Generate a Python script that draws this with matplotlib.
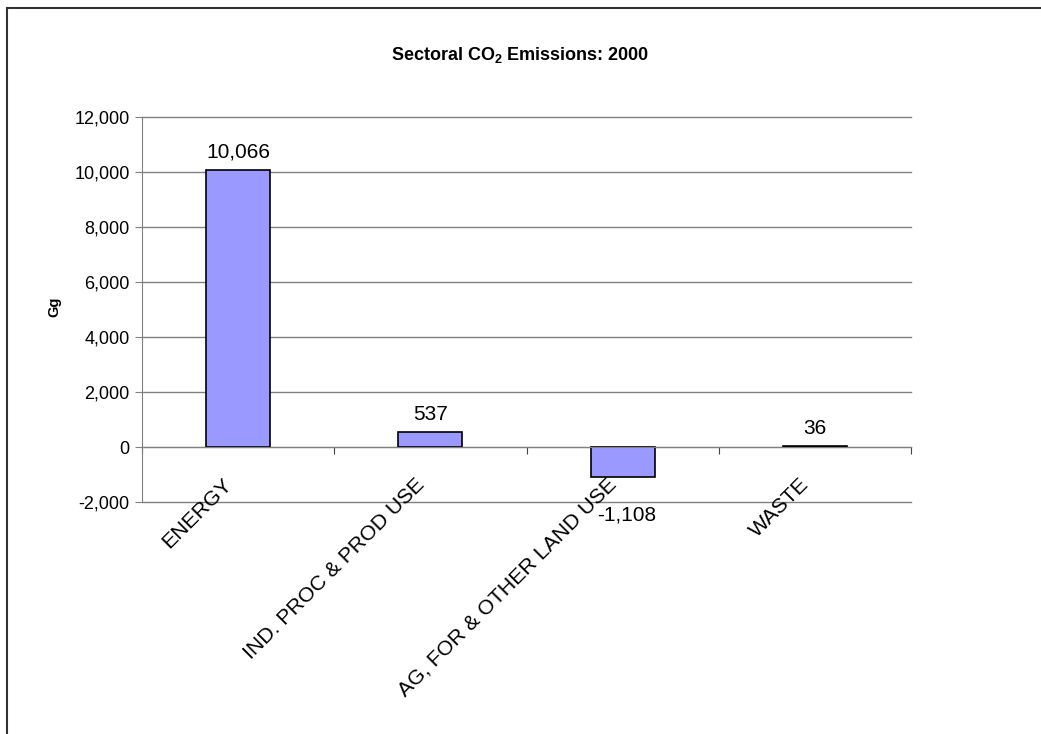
import matplotlib.pyplot as plt
from matplotlib.lines import Line2D

plt.rcParams['font.family'] = ['Liberation Sans', 'DejaVu Sans']
plt.rcParams['mathtext.fontset'] = 'custom'
plt.rcParams['mathtext.rm'] = 'Liberation Sans'
plt.rcParams['mathtext.bf'] = 'Liberation Sans:bold'

sectors = ['ENERGY', 'IND. PROC & PROD USE', 'AG, FOR & OTHER LAND USE', 'WASTE']
emissions = [10066, 537, -1108, 36]
yticks = [-2000, 0, 2000, 4000, 6000, 8000, 10000, 12000]

W, H = 1041, 734
fig = plt.figure(figsize=(W / 100, H / 100), dpi=100)
ax = fig.add_axes([142 / W, 1 - 502 / H, (911 - 142) / W, (502 - 117) / H])

x = list(range(len(sectors)))
ax.bar(x, emissions, width=1 / 3, color='#9999ff', edgecolor='black', linewidth=1.2, zorder=3)

ax.set_xlim(-0.5, len(sectors) - 0.5)
ax.set_ylim(-2000, 12000)
ax.set_yticks(yticks)
ax.set_yticklabels([f'{v:,}' for v in yticks], fontsize=13)
ax.yaxis.grid(True, color='#808080', linewidth=1)
for gl in ax.get_ygridlines():
    gl.set_clip_on(False)
ax.set_axisbelow(True)

for s in ['top', 'right']:
    ax.spines[s].set_visible(False)
ax.spines['left'].set_color('#808080')
ax.spines['bottom'].set_color('#808080')
ax.spines['bottom'].set_position(('data', 0))
ax.spines['bottom'].set_zorder(4)
ax.tick_params(axis='y', direction='out', length=5, color='#808080', pad=4)
ax.set_xticks([i - 0.5 for i in range(len(sectors) + 1)])
ax.set_xticklabels([])
ax.tick_params(axis='x', direction='out', length=5, color='#404040')

# value labels above positive bars, below negative ones
for xi, v in zip(x, emissions):
    if v >= 0:
        ax.annotate(f'{v:,}', (xi, v), xytext=(0, 6), textcoords='offset points',
                    ha='center', va='bottom', fontsize=15)
    else:
        ax.annotate(f'{v:,}', (xi, v), xytext=(3, -20), textcoords='offset points',
                    ha='center', va='top', fontsize=15)

# category names hang from the zero line, rotated
for xi, name in zip(x, sectors):
    ax.annotate(name, (xi, 0), xytext=(-11.5, -20), textcoords='offset points',
                ha='right', va='top', rotation=45, rotation_mode='anchor', fontsize=15.3)

fig.text(54 / W, 1 - 307 / H, 'Gg', rotation=90, ha='center', va='center',
         fontsize=10.5, fontweight='bold')

fig.text(520 / W, 1 - 60 / H, r'Sectoral CO$_\mathbf{2}$ Emissions: 2000',
         ha='center', va='baseline', fontsize=13, fontweight='bold')

# chart frame
fig.add_artist(Line2D([7 / W, 7 / W], [0, 1 - 8 / H], color='#333333', linewidth=1.5))
fig.add_artist(Line2D([7 / W, 1], [1 - 8 / H, 1 - 8 / H], color='#333333', linewidth=1.5))

fig.savefig('out.png', dpi=100)
